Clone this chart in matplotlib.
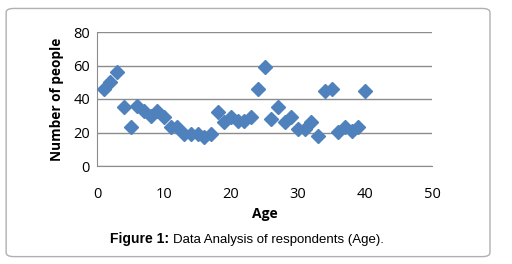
import matplotlib
matplotlib.use('Agg')
import matplotlib.pyplot as plt
from matplotlib.patches import FancyBboxPatch

# Respondent counts per age
ages = list(range(1, 41))
counts = [46, 50, 56, 35, 23, 36, 33, 30, 33, 29,
          23, 23, 19, 19, 19, 17.5, 19, 32, 26.5, 29.5,
          27, 27, 29, 46, 59, 28, 35, 26, 29, 22,
          22, 26, 18, 45, 46, 20.5, 23, 21, 23, 45]

x_ticks = [0, 10, 20, 30, 40, 50]
y_ticks = [0, 20, 40, 60, 80]

fig = plt.figure(figsize=(5.12, 2.64), dpi=100)

# rounded outer frame
frame = FancyBboxPatch((0.012, 0.028), 0.945, 0.94,
                       boxstyle='round,pad=0,rounding_size=0.015',
                       transform=fig.transFigure, facecolor='none',
                       edgecolor='#b0b0b0', linewidth=1.0, zorder=-1)
fig.patches.append(frame)

ax = fig.add_axes([97 / 512, 1 - 166 / 264, (432 - 97) / 512, (166 - 32) / 264])
ax.patch.set_alpha(0)
ax.plot(ages, counts, linestyle='none', marker='D', markersize=7.2,
        color='#4F81BD', markeredgecolor='#4F81BD', zorder=3, clip_on=False)

ax.set_xlim(0, 50)
ax.set_ylim(0, 80)
ax.set_xticks(x_ticks)
ax.set_yticks(y_ticks)
ax.grid(axis='y', color='#8c8c8c', linewidth=1.0)
ax.set_axisbelow(True)
for side in ['top', 'right']:
    ax.spines[side].set_visible(False)
for side in ['left', 'bottom']:
    ax.spines[side].set_color('#8c8c8c')
ax.tick_params(length=0, labelsize=10.5)
ax.tick_params(axis='x', pad=15)
ax.tick_params(axis='y', pad=5)
for lbl in ax.get_xticklabels() + ax.get_yticklabels():
    lbl.set_family('Open Sans')

ax.set_xlabel('Age', fontsize=10, fontweight='bold', family='Open Sans', labelpad=4)
ax.set_ylabel('Number of people', fontsize=9.8, fontweight='bold', family='Open Sans', labelpad=7)

fig.text(0.215, 0.08, 'Figure 1:', fontsize=10, fontweight='bold', family='Liberation Sans')
fig.text(0.338, 0.08, 'Data Analysis of respondents (Age).', fontsize=9.5, family='Liberation Sans')

plt.savefig('out.png', dpi=100)
